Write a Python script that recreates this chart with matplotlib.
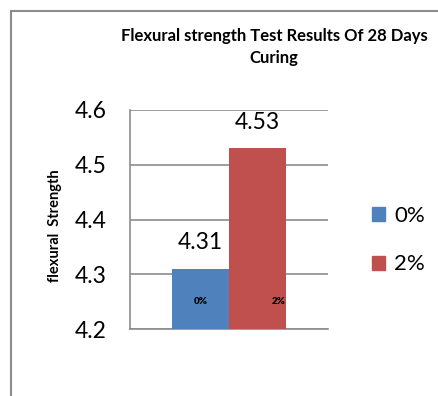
import matplotlib
matplotlib.use("Agg")
import matplotlib.pyplot as plt
from matplotlib.lines import Line2D
from matplotlib.patches import Patch

series = ["0%", "2%"]
values = [4.31, 4.53]
colors = ["#4F81BD", "#C0504D"]
yticks = [4.2, 4.3, 4.4, 4.5, 4.6]
title = "Flexural strength Test Results Of 28 Days\nCuring"
ylabel = "flexural  Strength"

plt.rcParams['font.family'] = ['Lato', 'DejaVu Sans']

fig = plt.figure(figsize=(4.39, 3.96), dpi=100)
ax = fig.add_axes([130/439, 1-329/396, 198/439, 219/396])

xpos = [-0.5, 0.5]
bars = ax.bar(xpos, [v - 4.2 for v in values], bottom=4.2, width=1.0, color=colors, zorder=3)
ax.set_xlim(-1.737, 1.737)
ax.set_ylim(4.2, 4.6)
ax.set_yticks(yticks)
ax.set_yticklabels([f"{t:.1f}" for t in yticks], fontsize=16.5)
ax.set_xticks([])
ax.tick_params(axis='y', length=0, pad=17)
ax.grid(axis='y', color='#8c8c8c', linewidth=1.2, zorder=0)
for s in ['top', 'right']:
    ax.spines[s].set_visible(False)
ax.spines['left'].set_color('#8c8c8c')
ax.spines['bottom'].set_color('#8c8c8c')
ax.spines['left'].set_linewidth(1.2)
ax.spines['bottom'].set_linewidth(1.2)

for x, v in zip(xpos, values):
    ax.text(x, v + 0.028, f"{v:.2f}", ha='center', va='bottom', fontsize=16.5)

ax.text(xpos[0], 4.25, series[0], ha='center', va='center', fontsize=7, fontweight='heavy')
ax.text(xpos[1] + 0.38, 4.25, series[1], ha='center', va='center', fontsize=7, fontweight='heavy')

ax.set_ylabel(ylabel, fontsize=10.5, fontweight='bold')
ax.yaxis.set_label_coords(-68/198, 0.47)

fig.text(274/439, 1-47/396, title, ha='center', va='center', fontsize=12, fontweight='bold', linespacing=1.5)

handles = [Patch(color=c) for c in colors]
leg = fig.legend(handles, series, loc='center left', bbox_to_anchor=(352/439, 1-240/396),
                 frameon=False, fontsize=16, handlelength=0.6, handleheight=0.6,
                 labelspacing=1.3, handletextpad=0.4)

fig.add_artist(Line2D([11/439, 11/439], [0, 1-11/396], color='#8c8c8c', linewidth=1.5))
fig.add_artist(Line2D([11/439, 1], [1-11/396, 1-11/396], color='#8c8c8c', linewidth=1.5))

fig.savefig("out.png", dpi=100)
